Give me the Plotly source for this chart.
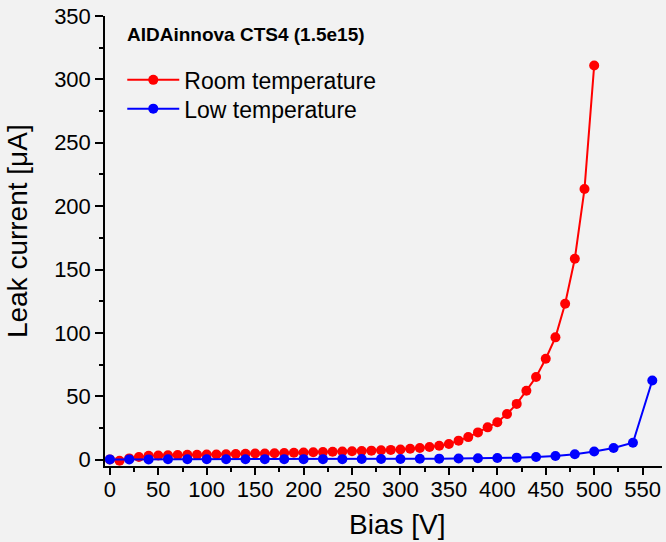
import plotly.graph_objects as go

room_bias = [0, 10, 20, 30, 40, 50, 60, 70, 80, 90, 100, 110, 120, 130, 140, 150, 160, 170, 180, 190,
             200, 210, 220, 230, 240, 250, 260, 270, 280, 290, 300, 310, 320, 330, 340, 350, 360, 370, 380, 390,
             400, 410, 420, 430, 440, 450, 460, 470, 480, 490, 500]
room_current = [0.2, -0.8, 1.0, 2.1, 3.0, 3.3, 3.5, 3.7, 3.8, 3.9, 4.0, 4.1, 4.3, 4.4, 4.6, 4.8, 4.9, 5.1, 5.2, 5.4,
                5.6, 5.8, 6.0, 6.2, 6.4, 6.6, 6.9, 7.1, 7.4, 7.7, 8.0, 8.6, 9.2, 10.0, 11.0, 12.4, 15.0, 17.8, 21.5, 25.5,
                29.5, 36.0, 44.0, 54.4, 65.2, 79.6, 96.5, 123.0, 158.5, 213.5, 311.0]

low_bias = [0, 20, 40, 60, 80, 100, 120, 140, 160, 180, 200, 220, 240, 260, 280, 300, 320, 340, 360, 380,
            400, 420, 440, 460, 480, 500, 520, 540, 560]
low_current = [0.2, 0.2, 0.2, 0.3, 0.3, 0.3, 0.3, 0.3, 0.4, 0.4, 0.4, 0.4, 0.4, 0.5, 0.5, 0.5, 0.7, 0.8, 0.9, 1.1,
               1.3, 1.6, 2.1, 2.9, 4.3, 6.4, 9.2, 13.4, 62.5]

x_ticks = [0, 50, 100, 150, 200, 250, 300, 350, 400, 450, 500, 550]
y_ticks = [0, 50, 100, 150, 200, 250, 300, 350]

FONT = "Liberation Sans, Arial, sans-serif"
BG = "#f2f2f2"

fig = go.Figure()
fig.add_trace(go.Scatter(x=room_bias, y=room_current, mode="lines+markers", name="Room temperature",
                         line=dict(color="#ff0000", width=2), marker=dict(color="#ff0000", size=10),
                         legend="legend"))
fig.add_trace(go.Scatter(x=low_bias, y=low_current, mode="lines+markers", name="Low temperature",
                         line=dict(color="#0000ff", width=2), marker=dict(color="#0000ff", size=10),
                         legend="legend2"))

axis_common = dict(showgrid=False, zeroline=False, showline=True, linecolor="black", linewidth=1.5,
                   tickwidth=1.5, tickcolor="black", ticks="outside",
                   tickfont=dict(family=FONT, size=22, color="black"),
                   minor=dict(ticks="outside", ticklen=4, tickwidth=1.5, tickcolor="black"))

fig.update_xaxes(range=[-5, 570], tickvals=x_ticks, ticktext=[str(v) for v in x_ticks],
                 ticklen=7, ticklabelstandoff=-4, minor_dtick=25, minor_tick0=0, **axis_common)
fig.update_yaxes(range=[-5, 350], tickvals=y_ticks, ticktext=[str(v) for v in y_ticks],
                 ticklen=8, minor_dtick=25, minor_tick0=0, **axis_common)

fig.add_annotation(text="Bias [V]", xref="paper", yref="paper", x=0.525, y=-0.13, yanchor="middle",
                   showarrow=False, font=dict(family=FONT, size=28, color="black"))
fig.add_annotation(text="Leak current [μA]", xref="paper", yref="paper", x=-0.158, y=0.522,
                   xanchor="center", yanchor="middle", textangle=-90, borderpad=0,
                   showarrow=False, font=dict(family=FONT, size=28, color="black"))
fig.add_annotation(text="<b>AIDAinnova CTS4 (1.5e15)</b>", xref="paper", yref="paper", x=0.036, y=0.96,
                   xanchor="left", yanchor="middle", showarrow=False,
                   font=dict(family=FONT, size=19, color="black"))

legend_common = dict(xanchor="left", yanchor="middle", bgcolor="rgba(0,0,0,0)",
                     font=dict(family=FONT, size=23, color="black"), itemwidth=52)

fig.update_layout(
    width=666, height=542,
    margin=dict(l=105, r=4, t=16, b=76),
    paper_bgcolor=BG, plot_bgcolor=BG,
    showlegend=True,
    legend=dict(x=0.031, y=0.858, **legend_common),
    legend2=dict(x=0.031, y=0.794, **legend_common),
)

fig.write_html("out.html")
